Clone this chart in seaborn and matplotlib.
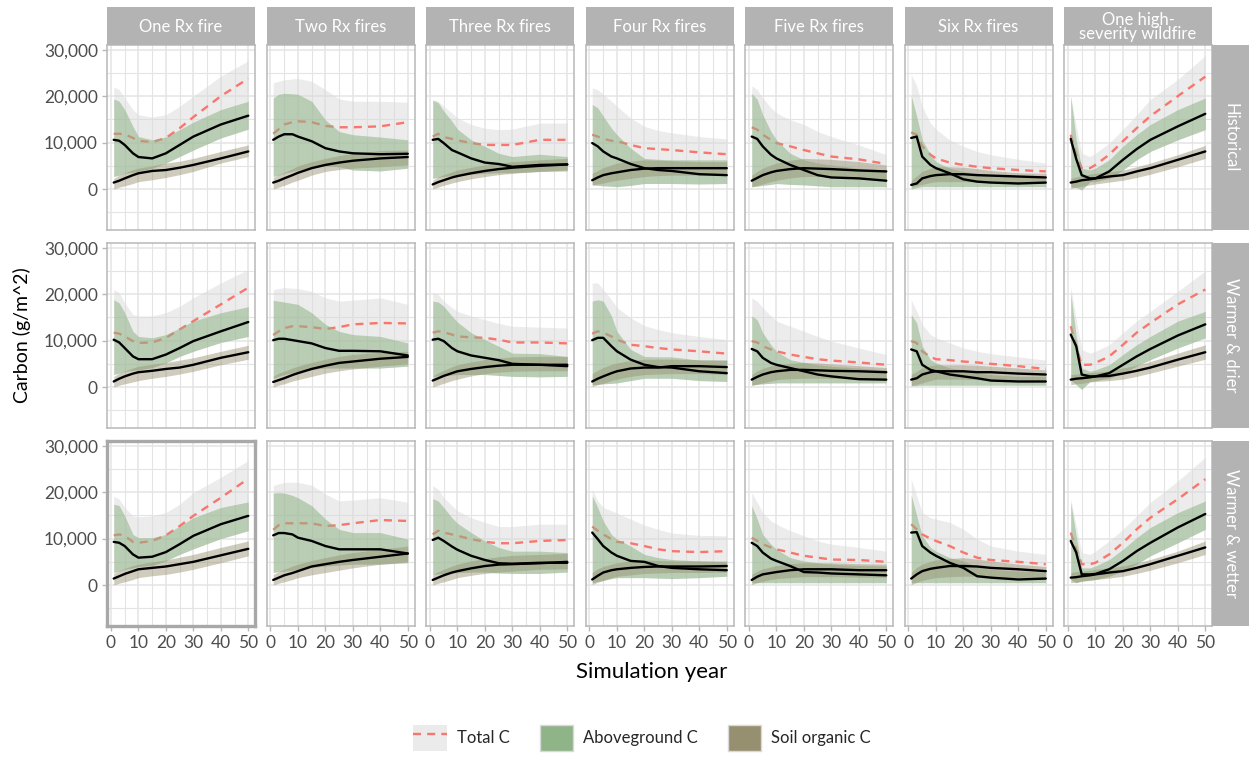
import matplotlib
matplotlib.use("Agg")
import numpy as np
import pandas as pd
import matplotlib.pyplot as plt
from matplotlib.patches import Patch
from matplotlib.lines import Line2D
from matplotlib.ticker import MultipleLocator, FuncFormatter
import seaborn as sns

# ------------------------------------------------------------------ data
YEARS = [1, 3, 5, 8, 10, 15, 20, 25, 30, 40, 50]
TREATMENTS = ["One Rx fire", "Two Rx fires", "Three Rx fires", "Four Rx fires",
              "Five Rx fires", "Six Rx fires", "One high-\nseverity wildfire"]
CLIMATES = ["Historical", "Warmer & drier", "Warmer & wetter"]

# all values in thousands of g/m^2, one inner list per treatment (column)
HIST_TOTAL_MEAN = [
    [11.9, 11.9, 11.8, 11.0, 10.4, 10.1, 11.0, 13.1, 15.5, 20.0, 23.8],
    [11.9, 12.9, 13.9, 14.4, 14.6, 14.4, 13.6, 13.3, 13.3, 13.5, 14.4],
    [11.3, 11.9, 11.2, 10.8, 10.5, 9.9, 9.5, 9.5, 9.5, 10.6, 10.6],
    [11.7, 11.3, 10.8, 10.4, 10.3, 9.5, 8.8, 8.6, 8.4, 7.9, 7.5],
    [13.3, 12.8, 11.7, 10.6, 9.9, 9.2, 8.4, 7.7, 7.0, 6.4, 5.4],
    [12.2, 11.7, 9.2, 7.4, 6.6, 5.7, 5.2, 4.8, 4.5, 4.1, 3.8],
    [11.7, 7.5, 4.5, 4.5, 5.2, 7.4, 10.3, 13.1, 15.7, 20.0, 24.2],
]
HIST_TOTAL_HI = [
    [22.0, 21.4, 19.6, 17.1, 16.0, 15.5, 16.0, 17.8, 20.0, 24.3, 27.6],
    [22.9, 23.2, 23.5, 23.7, 23.8, 23.2, 21.4, 19.4, 18.9, 18.9, 18.7],
    [19.3, 18.9, 17.8, 16.4, 15.3, 13.9, 13.1, 12.8, 12.9, 14.2, 14.2],
    [21.8, 21.4, 20.4, 18.9, 17.8, 15.3, 13.5, 12.6, 12.1, 11.3, 10.8],
    [22.2, 21.4, 19.6, 17.5, 16.4, 14.9, 13.9, 12.4, 11.3, 9.5, 7.4],
    [24.7, 22.2, 17.8, 14.2, 12.9, 10.6, 9.2, 8.1, 7.4, 6.4, 5.6],
    [20.0, 13.5, 7.7, 7.0, 7.7, 9.9, 12.8, 16.0, 19.3, 23.6, 28.7],
]
HIST_ABOVE_MEAN = [
    [10.6, 10.4, 9.5, 7.7, 6.9, 6.6, 7.7, 9.5, 11.3, 13.9, 15.8],
    [10.6, 11.3, 11.8, 11.8, 11.3, 10.3, 8.8, 8.1, 7.7, 7.5, 7.6],
    [10.6, 10.8, 9.9, 8.4, 7.9, 6.6, 5.7, 5.4, 4.8, 5.2, 5.3],
    [9.9, 9.2, 8.1, 7.0, 6.6, 5.4, 4.5, 4.1, 3.9, 3.2, 3.0],
    [11.3, 10.8, 9.2, 7.4, 6.6, 5.2, 4.1, 3.0, 2.5, 2.3, 1.8],
    [11.0, 11.3, 7.0, 5.2, 4.5, 3.4, 2.1, 1.6, 1.4, 1.2, 1.4],
    [10.8, 6.5, 3.0, 2.3, 2.3, 3.8, 6.3, 8.6, 10.6, 13.5, 16.2],
]
HIST_ABOVE_HI = [
    [19.4, 18.9, 17.1, 13.5, 11.3, 10.6, 11.2, 12.8, 14.4, 17.1, 18.9],
    [19.6, 20.4, 20.6, 20.5, 20.4, 18.9, 14.9, 12.4, 11.7, 11.2, 10.6],
    [19.1, 18.6, 16.8, 14.6, 12.9, 10.6, 9.2, 7.7, 7.0, 7.5, 7.0],
    [18.2, 17.5, 15.7, 13.1, 11.7, 8.8, 6.6, 6.4, 6.3, 6.3, 6.3],
    [20.6, 19.3, 16.0, 12.4, 10.6, 7.7, 6.3, 5.6, 5.2, 4.5, 4.1],
    [20.1, 15.7, 10.6, 7.4, 5.9, 4.5, 3.8, 3.4, 3.0, 2.7, 2.3],
    [20.0, 10.6, 4.5, 4.1, 4.5, 6.3, 9.2, 11.7, 13.9, 17.1, 19.6],
]
HIST_ABOVE_LO = [
    [2.7, 3.0, 3.4, 3.6, 3.8, 4.5, 5.6, 7.0, 8.4, 11.0, 12.9],
    [2.7, 3.0, 3.4, 3.8, 4.1, 4.6, 5.0, 4.8, 4.1, 3.9, 4.5],
    [2.3, 2.5, 2.7, 2.9, 3.0, 3.2, 3.4, 3.5, 3.5, 3.8, 3.9],
    [0.9, 0.8, 0.7, 0.6, 0.5, 0.8, 1.2, 1.2, 1.2, 1.1, 1.2],
    [0.5, 0.6, 0.8, 1.0, 1.2, 1.0, 0.9, 0.7, 0.5, 0.5, 0.5],
    [0.0, 0.3, 0.5, 0.5, 0.5, 0.5, 0.5, 0.5, 0.5, 0.5, 0.5],
    [0.5, 0.3, -0.2, 1.6, 1.6, 2.3, 4.1, 6.3, 8.1, 10.6, 12.8],
]
HIST_SOIL_MEAN = [
    [1.4, 1.8, 2.3, 3.0, 3.4, 3.9, 4.1, 4.6, 5.2, 6.6, 8.1],
    [1.4, 1.8, 2.3, 3.0, 3.5, 4.5, 5.2, 5.7, 6.1, 6.6, 6.9],
    [1.0, 1.5, 1.9, 2.5, 2.8, 3.4, 3.9, 4.3, 4.6, 5.0, 5.3],
    [1.9, 2.5, 3.0, 3.4, 3.6, 4.1, 4.4, 4.5, 4.5, 4.5, 4.5],
    [1.8, 2.4, 3.0, 3.6, 3.9, 4.3, 4.5, 4.4, 4.3, 4.0, 3.8],
    [0.9, 1.2, 2.3, 2.8, 3.0, 3.2, 3.2, 3.0, 2.9, 2.7, 2.5],
    [1.4, 1.6, 1.9, 2.1, 2.3, 2.7, 3.0, 3.8, 4.5, 6.3, 8.1],
]
HIST_SOIL_HI = [
    [2.3, 3.0, 3.5, 4.2, 4.5, 5.0, 5.6, 6.0, 6.6, 8.1, 9.5],
    [2.5, 3.1, 3.6, 4.4, 5.0, 5.9, 6.6, 7.2, 7.7, 8.3, 8.4],
    [1.9, 2.6, 3.1, 3.7, 4.1, 4.7, 5.2, 5.6, 5.9, 6.3, 6.6],
    [3.4, 4.0, 4.6, 5.2, 5.6, 6.0, 6.3, 6.2, 6.1, 5.9, 5.9],
    [3.0, 3.8, 4.5, 5.2, 5.6, 6.2, 6.6, 6.5, 6.4, 5.9, 5.2],
    [1.9, 2.8, 3.8, 4.5, 4.8, 4.8, 4.7, 4.4, 4.0, 3.5, 3.4],
    [2.3, 2.6, 2.9, 3.2, 3.4, 3.7, 4.1, 4.8, 5.6, 7.4, 9.4],
]
HIST_SOIL_LO = [
    [0.0, 0.4, 0.7, 1.2, 1.6, 2.0, 2.5, 3.1, 3.8, 5.6, 7.0],
    [0.0, 0.4, 0.8, 1.5, 1.9, 3.0, 3.8, 4.2, 4.5, 4.8, 5.2],
    [0.0, 0.4, 0.8, 1.3, 1.6, 2.2, 2.7, 3.1, 3.4, 3.8, 4.1],
    [0.9, 1.1, 1.3, 1.7, 1.9, 2.3, 2.7, 2.9, 3.0, 3.0, 3.0],
    [0.5, 0.8, 1.1, 1.6, 1.9, 2.4, 2.7, 2.7, 2.7, 2.3, 1.9],
    [0.5, 0.7, 1.0, 1.4, 1.6, 1.6, 1.6, 1.5, 1.4, 1.2, 1.2],
    [0.1, 0.4, 0.6, 0.9, 1.1, 1.5, 1.9, 2.5, 3.2, 4.8, 6.6],
]

DRY_TOTAL_MEAN = [
    [11.7, 11.5, 10.9, 9.9, 9.5, 9.6, 10.6, 12.4, 14.2, 17.8, 21.4],
    [11.2, 12.0, 12.7, 13.1, 13.1, 12.9, 12.5, 12.9, 13.5, 13.8, 13.7],
    [11.7, 12.0, 11.8, 11.3, 10.9, 10.7, 10.6, 10.2, 9.6, 9.6, 9.4],
    [11.5, 12.0, 11.7, 10.9, 10.2, 9.1, 8.8, 8.4, 8.1, 7.7, 7.2],
    [9.9, 9.6, 8.8, 8.1, 7.7, 7.0, 6.5, 6.0, 5.7, 5.3, 4.8],
    [9.9, 9.5, 7.7, 6.5, 6.0, 5.8, 5.5, 5.3, 5.0, 4.5, 3.9],
    [13.1, 8.8, 4.8, 4.8, 5.2, 6.6, 9.1, 11.7, 13.8, 17.8, 21.0],
]
DRY_TOTAL_HI = [
    [21.0, 20.3, 18.1, 15.6, 15.3, 15.3, 16.0, 17.4, 19.2, 22.4, 25.3],
    [21.0, 21.2, 21.4, 21.3, 21.2, 20.6, 19.2, 18.5, 18.7, 19.2, 17.8],
    [20.3, 19.9, 18.5, 17.1, 16.3, 15.3, 14.5, 13.7, 13.1, 12.9, 12.7],
    [22.4, 22.4, 21.0, 18.8, 17.1, 14.9, 13.2, 12.4, 11.7, 10.9, 10.2],
    [19.2, 18.5, 17.1, 15.3, 14.2, 13.1, 12.0, 10.9, 9.9, 8.4, 7.0],
    [18.8, 16.3, 13.5, 11.3, 10.6, 9.5, 8.4, 7.7, 7.2, 6.5, 5.8],
    [21.7, 14.5, 8.1, 7.3, 7.7, 9.1, 11.7, 14.2, 16.3, 20.6, 25.0],
]
DRY_ABOVE_MEAN = [
    [10.2, 9.6, 8.4, 6.6, 6.0, 6.0, 7.0, 8.4, 9.9, 12.0, 14.0],
    [10.1, 10.4, 10.4, 10.1, 9.9, 9.4, 8.4, 7.8, 7.8, 7.7, 6.8],
    [10.2, 10.4, 9.9, 8.4, 7.7, 6.8, 6.3, 5.8, 5.0, 4.8, 4.5],
    [10.1, 10.6, 10.6, 8.8, 7.7, 5.9, 4.8, 4.3, 4.2, 3.4, 3.0],
    [8.2, 7.7, 6.3, 5.2, 4.8, 4.1, 3.4, 2.7, 2.3, 1.7, 1.6],
    [8.1, 7.7, 4.8, 3.7, 3.4, 2.7, 2.3, 1.9, 1.4, 1.2, 1.2],
    [11.3, 8.8, 2.7, 2.3, 2.3, 3.0, 4.8, 6.6, 8.2, 11.1, 13.5],
]
DRY_ABOVE_HI = [
    [18.8, 18.1, 16.0, 12.0, 10.9, 10.6, 11.3, 12.7, 14.2, 16.0, 17.3],
    [18.7, 18.5, 18.3, 18.0, 17.8, 16.0, 13.5, 12.0, 11.3, 10.9, 9.5],
    [18.5, 18.3, 17.4, 15.3, 14.0, 11.7, 10.2, 8.8, 7.3, 7.2, 6.6],
    [18.5, 18.8, 18.5, 15.3, 12.0, 8.1, 6.6, 6.5, 6.5, 5.8, 5.8],
    [15.3, 14.5, 11.7, 9.1, 7.7, 5.9, 5.3, 4.8, 4.5, 4.1, 3.7],
    [15.6, 13.8, 8.8, 5.9, 5.2, 4.1, 3.7, 3.0, 2.7, 2.3, 2.3],
    [20.3, 10.9, 4.1, 3.4, 3.7, 4.8, 7.0, 9.1, 10.9, 14.2, 16.3],
]
DRY_ABOVE_LO = [
    [2.7, 3.0, 3.4, 3.6, 3.7, 4.2, 5.2, 6.6, 7.7, 9.6, 10.9],
    [1.9, 2.3, 2.7, 3.1, 3.4, 3.8, 4.1, 4.1, 4.1, 4.1, 4.5],
    [2.3, 2.4, 2.5, 2.6, 2.7, 2.7, 2.7, 2.5, 2.3, 2.2, 2.3],
    [0.5, 0.6, 0.7, 0.8, 0.9, 1.4, 1.9, 1.9, 1.9, 1.4, 1.2],
    [0.5, 0.6, 0.7, 0.8, 0.9, 0.9, 0.9, 0.9, 0.9, 0.9, 0.9],
    [0.3, 0.3, 0.4, 0.4, 0.4, 0.4, 0.4, 0.4, 0.4, 0.4, 0.4],
    [1.6, 0.5, -0.5, 1.2, 1.4, 1.9, 3.0, 4.5, 5.9, 8.4, 10.6],
]
DRY_SOIL_MEAN = [
    [1.2, 1.8, 2.3, 2.9, 3.2, 3.5, 3.9, 4.2, 4.8, 6.3, 7.5],
    [1.1, 1.5, 1.9, 2.6, 3.0, 3.9, 4.6, 5.2, 5.5, 6.1, 6.5],
    [1.4, 1.9, 2.4, 3.0, 3.4, 3.9, 4.3, 4.6, 4.8, 4.8, 4.8],
    [1.2, 1.8, 2.3, 3.0, 3.4, 4.0, 4.2, 4.2, 4.5, 4.5, 4.3],
    [1.6, 2.2, 2.7, 3.2, 3.4, 3.7, 3.7, 3.6, 3.5, 3.4, 3.2],
    [1.6, 1.9, 2.7, 3.2, 3.4, 3.4, 3.4, 3.2, 3.2, 2.9, 2.7],
    [1.6, 1.8, 1.9, 2.1, 2.3, 2.4, 2.9, 3.5, 4.2, 5.9, 7.5],
]
DRY_SOIL_HI = [
    [2.3, 3.0, 3.5, 4.1, 4.5, 4.9, 5.3, 5.8, 6.3, 7.7, 9.0],
    [2.3, 3.0, 3.4, 4.1, 4.5, 5.3, 6.0, 6.6, 7.0, 7.5, 7.7],
    [2.4, 3.1, 3.6, 4.4, 4.8, 5.4, 5.9, 6.2, 6.5, 6.6, 6.6],
    [2.9, 3.6, 4.2, 4.9, 5.2, 5.7, 6.0, 6.0, 6.0, 5.9, 5.8],
    [2.7, 3.5, 4.0, 4.6, 4.8, 5.1, 5.3, 5.2, 5.0, 4.6, 4.2],
    [2.7, 3.4, 4.1, 4.6, 4.8, 4.8, 4.8, 4.7, 4.5, 4.1, 3.7],
    [2.7, 2.8, 2.9, 3.1, 3.2, 3.5, 4.1, 4.7, 5.5, 7.3, 9.1],
]
DRY_SOIL_LO = [
    [0.0, 0.4, 0.7, 1.1, 1.4, 1.9, 2.3, 2.8, 3.4, 4.8, 6.0],
    [0.0, 0.4, 0.7, 1.3, 1.6, 2.3, 3.0, 3.5, 3.9, 4.5, 5.0],
    [0.0, 0.4, 0.8, 1.4, 1.7, 2.4, 2.9, 3.2, 3.4, 3.5, 3.5],
    [0.1, 0.5, 0.8, 1.4, 1.7, 2.3, 2.7, 2.8, 2.9, 2.9, 2.7],
    [0.3, 0.6, 0.9, 1.3, 1.6, 1.8, 1.9, 1.9, 1.9, 1.7, 1.6],
    [0.3, 0.6, 0.9, 1.4, 1.7, 1.7, 1.7, 1.6, 1.6, 1.4, 1.2],
    [0.5, 0.7, 0.8, 1.1, 1.2, 1.4, 1.7, 2.3, 3.0, 4.5, 6.0],
]

WET_TOTAL_MEAN = [
    [10.7, 10.9, 10.6, 9.3, 9.1, 9.5, 10.7, 12.7, 14.9, 18.8, 22.9],
    [11.9, 12.9, 13.3, 13.3, 13.3, 13.3, 12.7, 12.9, 13.3, 14.0, 13.8],
    [10.9, 11.7, 11.3, 10.9, 10.6, 9.9, 9.3, 9.0, 9.0, 9.5, 9.7],
    [12.6, 11.7, 10.9, 9.9, 9.3, 9.0, 8.4, 7.7, 7.3, 7.1, 7.3],
    [10.2, 9.5, 8.8, 8.1, 7.7, 7.0, 6.3, 5.9, 5.5, 5.4, 5.0],
    [13.1, 12.0, 10.9, 10.0, 9.5, 8.4, 7.0, 5.9, 5.4, 5.0, 4.5],
    [11.3, 7.7, 4.5, 4.5, 4.8, 6.6, 9.1, 12.0, 14.5, 18.5, 22.8],
]
WET_TOTAL_HI = [
    [19.1, 18.5, 16.7, 14.9, 14.7, 14.9, 15.6, 17.4, 19.9, 23.2, 26.8],
    [21.4, 21.8, 22.1, 22.1, 22.1, 21.5, 19.6, 18.1, 18.3, 18.8, 17.8],
    [21.4, 20.6, 18.8, 17.1, 16.0, 14.5, 13.5, 12.6, 12.6, 13.1, 13.1],
    [20.6, 18.1, 16.7, 16.0, 15.5, 14.2, 12.9, 12.0, 11.2, 10.7, 10.6],
    [19.9, 17.8, 15.6, 13.8, 13.1, 11.7, 10.6, 9.5, 8.8, 8.1, 7.3],
    [22.8, 19.2, 15.6, 14.5, 14.2, 13.5, 12.0, 9.9, 8.4, 7.3, 6.6],
    [18.5, 12.7, 7.0, 6.6, 7.3, 9.5, 12.0, 14.9, 17.8, 22.4, 27.5],
]
WET_ABOVE_MEAN = [
    [9.3, 9.1, 8.4, 6.6, 5.9, 6.1, 7.1, 8.8, 10.6, 13.1, 14.9],
    [10.7, 11.2, 11.2, 10.9, 10.2, 9.5, 8.4, 7.7, 7.7, 7.7, 6.8],
    [9.7, 10.2, 9.5, 8.3, 7.6, 6.3, 5.4, 4.7, 4.6, 4.8, 4.8],
    [11.3, 9.9, 8.4, 7.0, 6.3, 5.2, 5.0, 4.1, 3.7, 3.4, 3.2],
    [9.1, 8.4, 7.0, 5.7, 5.2, 4.1, 2.8, 2.7, 2.5, 2.3, 2.1],
    [11.3, 11.4, 8.4, 7.0, 6.3, 4.8, 3.7, 1.9, 1.6, 1.2, 1.4],
    [9.5, 7.0, 2.3, 2.3, 2.4, 3.4, 5.2, 7.3, 9.1, 12.4, 15.3],
]
WET_ABOVE_HI = [
    [17.4, 17.1, 14.9, 10.9, 10.2, 10.2, 10.9, 12.7, 14.5, 16.7, 17.9],
    [19.8, 19.9, 19.8, 19.3, 18.8, 17.1, 14.2, 12.0, 11.3, 11.3, 9.9],
    [18.6, 18.1, 16.7, 14.5, 13.3, 11.3, 9.5, 8.1, 7.3, 7.3, 7.0],
    [19.2, 16.7, 13.8, 10.9, 9.9, 8.4, 6.6, 5.9, 5.5, 5.2, 5.0],
    [17.1, 14.2, 10.9, 8.8, 7.7, 5.9, 5.2, 4.8, 4.5, 4.2, 4.1],
    [19.4, 14.9, 10.6, 8.1, 7.3, 5.9, 5.2, 4.0, 3.4, 3.0, 2.8],
    [17.8, 10.6, 3.7, 3.7, 4.1, 5.5, 7.7, 10.2, 12.4, 15.6, 18.1],
]
WET_ABOVE_LO = [
    [2.7, 3.0, 3.4, 3.7, 4.0, 4.2, 5.2, 6.6, 7.8, 10.0, 11.7],
    [2.7, 2.9, 3.0, 3.2, 3.4, 3.8, 4.1, 4.3, 4.5, 4.5, 4.8],
    [2.3, 2.4, 2.5, 2.6, 2.7, 2.8, 2.8, 2.6, 2.5, 2.5, 2.8],
    [0.5, 0.8, 1.0, 1.4, 1.6, 1.6, 1.6, 1.5, 1.4, 1.6, 1.9],
    [0.5, 0.5, 0.5, 0.5, 0.5, 0.5, 0.5, 0.5, 0.5, 0.5, 0.5],
    [0.5, 0.5, 0.5, 0.5, 0.5, 0.5, 0.5, 0.5, 0.5, 0.5, 0.5],
    [1.2, 0.5, 0.9, 1.1, 1.2, 1.9, 3.0, 4.5, 6.3, 9.1, 12.0],
]
WET_SOIL_MEAN = [
    [1.4, 1.9, 2.4, 3.0, 3.4, 3.7, 4.0, 4.5, 5.0, 6.4, 7.8],
    [1.1, 1.6, 2.1, 2.6, 3.0, 4.0, 4.5, 5.0, 5.4, 6.1, 6.8],
    [1.1, 1.6, 2.1, 2.7, 3.0, 3.6, 4.1, 4.4, 4.5, 4.7, 5.0],
    [1.2, 2.0, 2.7, 3.2, 3.4, 3.7, 3.9, 4.0, 4.0, 4.0, 4.1],
    [1.1, 1.8, 2.3, 2.6, 2.8, 3.2, 3.4, 3.4, 3.4, 3.2, 3.2],
    [1.4, 2.3, 3.0, 3.5, 3.7, 4.1, 4.1, 4.0, 3.7, 3.4, 3.0],
    [1.6, 1.7, 1.9, 2.1, 2.3, 2.7, 3.0, 3.7, 4.5, 6.3, 8.1],
]
WET_SOIL_HI = [
    [2.5, 3.1, 3.6, 4.2, 4.5, 5.0, 5.4, 6.0, 6.6, 8.1, 9.5],
    [2.3, 2.9, 3.4, 4.1, 4.5, 5.3, 5.9, 6.5, 7.0, 7.7, 8.4],
    [2.3, 2.9, 3.4, 4.1, 4.5, 5.2, 5.7, 6.1, 6.4, 6.6, 6.8],
    [2.7, 3.5, 4.0, 4.5, 4.8, 5.2, 5.4, 5.3, 5.2, 5.2, 5.2],
    [2.3, 3.0, 3.5, 3.9, 4.2, 4.6, 4.8, 4.8, 4.8, 4.6, 4.5],
    [2.7, 3.8, 4.5, 5.1, 5.4, 5.7, 5.9, 5.6, 5.2, 4.5, 4.0],
    [2.7, 2.9, 3.0, 3.2, 3.4, 3.7, 4.1, 4.8, 5.5, 7.3, 9.5],
]
WET_SOIL_LO = [
    [0.0, 0.4, 0.7, 1.2, 1.6, 2.0, 2.3, 2.8, 3.4, 4.8, 6.3],
    [0.0, 0.4, 0.7, 1.2, 1.6, 2.2, 2.7, 3.2, 3.7, 4.5, 5.0],
    [0.0, 0.4, 0.7, 1.2, 1.6, 2.1, 2.5, 2.8, 3.0, 3.4, 3.5],
    [0.1, 0.6, 1.0, 1.6, 1.9, 2.2, 2.5, 2.6, 2.7, 2.7, 2.8],
    [0.1, 0.5, 0.8, 1.2, 1.4, 1.6, 1.8, 1.8, 1.8, 1.7, 1.7],
    [0.1, 0.6, 1.0, 1.4, 1.6, 1.8, 1.9, 1.9, 1.8, 1.6, 1.4],
    [0.5, 0.6, 0.8, 1.0, 1.2, 1.5, 1.9, 2.5, 3.2, 4.8, 6.6],
]

LEGEND_LABELS = ["Total C", "Aboveground C", "Soil organic C"]

# ------------------------------------------------------------------ build table
SERIES = {
    "Historical": dict(total_mean=HIST_TOTAL_MEAN, total_hi=HIST_TOTAL_HI,
                       above_mean=HIST_ABOVE_MEAN, above_hi=HIST_ABOVE_HI, above_lo=HIST_ABOVE_LO,
                       soil_mean=HIST_SOIL_MEAN, soil_hi=HIST_SOIL_HI, soil_lo=HIST_SOIL_LO),
    "Warmer & drier": dict(total_mean=DRY_TOTAL_MEAN, total_hi=DRY_TOTAL_HI,
                           above_mean=DRY_ABOVE_MEAN, above_hi=DRY_ABOVE_HI, above_lo=DRY_ABOVE_LO,
                           soil_mean=DRY_SOIL_MEAN, soil_hi=DRY_SOIL_HI, soil_lo=DRY_SOIL_LO),
    "Warmer & wetter": dict(total_mean=WET_TOTAL_MEAN, total_hi=WET_TOTAL_HI,
                            above_mean=WET_ABOVE_MEAN, above_hi=WET_ABOVE_HI, above_lo=WET_ABOVE_LO,
                            soil_mean=WET_SOIL_MEAN, soil_hi=WET_SOIL_HI, soil_lo=WET_SOIL_LO),
}
records = []
for clim in CLIMATES:
    s = SERIES[clim]
    for j, trt in enumerate(TREATMENTS):
        for k, yr in enumerate(YEARS):
            rec = dict(climate=clim, treatment=trt, year=yr)
            for name, arr in s.items():
                rec[name] = arr[j][k] * 1000.0
            records.append(rec)
df = pd.DataFrame(records)

# ------------------------------------------------------------------ style
sns.set_theme(style="white")
plt.rcParams["font.family"] = ["Lato", "DejaVu Sans"]

GREY_RIB = "#DADADA"
GREEN = "#8FB487"
SOIL = "#968F70"
SALMON = "#F8766D"
STRIP = "#B3B3B3"
BORDER = "#B8B8B8"
GRID = "#E4E4E4"
TICKTXT = "#4D4D4D"
DASH = (0, (3.4, 2.6))

W, H = 1249, 757
fig = plt.figure(figsize=(W / 100, H / 100), dpi=100)

PX_LEFT, PX_STEP_X, PX_W = 107, 159.5, 148
PX_TOP, PX_STEP_Y, PX_H = 45, 198, 185

def frac_box(left, top, width, height):
    return [left / W, 1 - (top + height) / H, width / W, height / H]

for r, clim in enumerate(CLIMATES):
    for c, trt in enumerate(TREATMENTS):
        L = PX_LEFT + PX_STEP_X * c
        T = PX_TOP + PX_STEP_Y * r
        ax = fig.add_axes(frac_box(L, T, PX_W, PX_H))
        d = df[(df.climate == clim) & (df.treatment == trt)]

        ax.set_xlim(-1.45, 52.45)
        ax.set_ylim(-8810, 31010)
        ax.xaxis.set_major_locator(MultipleLocator(10))
        ax.xaxis.set_minor_locator(MultipleLocator(5))
        ax.yaxis.set_major_locator(MultipleLocator(10000))
        ax.yaxis.set_minor_locator(MultipleLocator(5000))
        ax.grid(True, which="major", color=GRID, lw=1.1)
        ax.grid(True, which="minor", color=GRID, lw=0.8)
        ax.set_axisbelow(True)
        ax.set_facecolor("white")

        ax.fill_between(d["year"], d["above_lo"], d["total_hi"], color=GREY_RIB,
                        alpha=0.5, lw=0, zorder=1)
        sns.lineplot(data=d, x="year", y="total_mean", ax=ax, color=SALMON,
                     linestyle=DASH, lw=1.7, zorder=2, errorbar=None)
        ax.fill_between(d["year"], d["above_lo"], d["above_hi"], color=GREEN,
                        alpha=0.55, lw=0, zorder=3)
        ax.fill_between(d["year"], d["soil_lo"], d["soil_hi"], color=SOIL,
                        alpha=0.45, lw=0, zorder=4)
        sns.lineplot(data=d, x="year", y="above_mean", ax=ax, color="black",
                     lw=1.7, zorder=5, errorbar=None)
        sns.lineplot(data=d, x="year", y="soil_mean", ax=ax, color="black",
                     lw=1.7, zorder=5, errorbar=None)
        ax.set_xlabel("")
        ax.set_ylabel("")

        for sp in ax.spines.values():
            sp.set_visible(True)
            sp.set_color(BORDER)
            sp.set_linewidth(1.1)
        if r == 2 and c == 0:
            for sp in ax.spines.values():
                sp.set_linewidth(2.4)
                sp.set_color("#A8A8A8")

        ax.yaxis.set_major_formatter(FuncFormatter(lambda v, p: f"{int(v):,}"))
        ax.tick_params(which="minor", length=0)
        ax.tick_params(which="major", length=3.5, width=1.0, color=BORDER,
                       labelsize=12.5, labelcolor=TICKTXT, pad=3,
                       left=(c == 0), labelleft=(c == 0),
                       bottom=(r == 2), labelbottom=(r == 2))

        if r == 0:
            sax = fig.add_axes(frac_box(L, 7, PX_W, 38))
            sax.set_facecolor(STRIP)
            sax.set_xticks([]); sax.set_yticks([])
            for sp in sax.spines.values():
                sp.set_visible(False)
            sax.text(0.5, 0.47, trt, color="white", ha="center", va="center",
                     fontsize=12, linespacing=0.9, transform=sax.transAxes)
        if c == len(TREATMENTS) - 1:
            rax = fig.add_axes(frac_box(1212, T, 37, PX_H))
            rax.set_facecolor(STRIP)
            rax.set_xticks([]); rax.set_yticks([])
            for sp in rax.spines.values():
                sp.set_visible(False)
            rax.text(0.5, 0.5, clim, color="white", ha="center", va="center",
                     rotation=-90, fontsize=12, transform=rax.transAxes)

fig.text(22 / W, 1 - 335 / H, "Carbon (g/m^2)", rotation=90, ha="center",
         va="center", fontsize=14, color="black")
fig.text(652 / W, 1 - 672 / H, "Simulation year", ha="center", va="center",
         fontsize=16, color="black")

handles = [
    (Patch(facecolor="#EBEBEB", edgecolor="none"),
     Line2D([], [], color=SALMON, linestyle=DASH, lw=1.7)),
    Patch(facecolor=GREEN, edgecolor="#D9D9D9", lw=1.0),
    Patch(facecolor=SOIL, edgecolor="#D9D9D9", lw=1.0),
]
fig.legend(handles, LEGEND_LABELS, loc="center", bbox_to_anchor=(642 / W, 1 - 738 / H),
           ncol=3, frameon=False, fontsize=12, handlelength=2.0, handleheight=2.0,
           handletextpad=0.6, columnspacing=1.8, borderaxespad=0, borderpad=0)

fig.savefig("out.png", dpi=100)
